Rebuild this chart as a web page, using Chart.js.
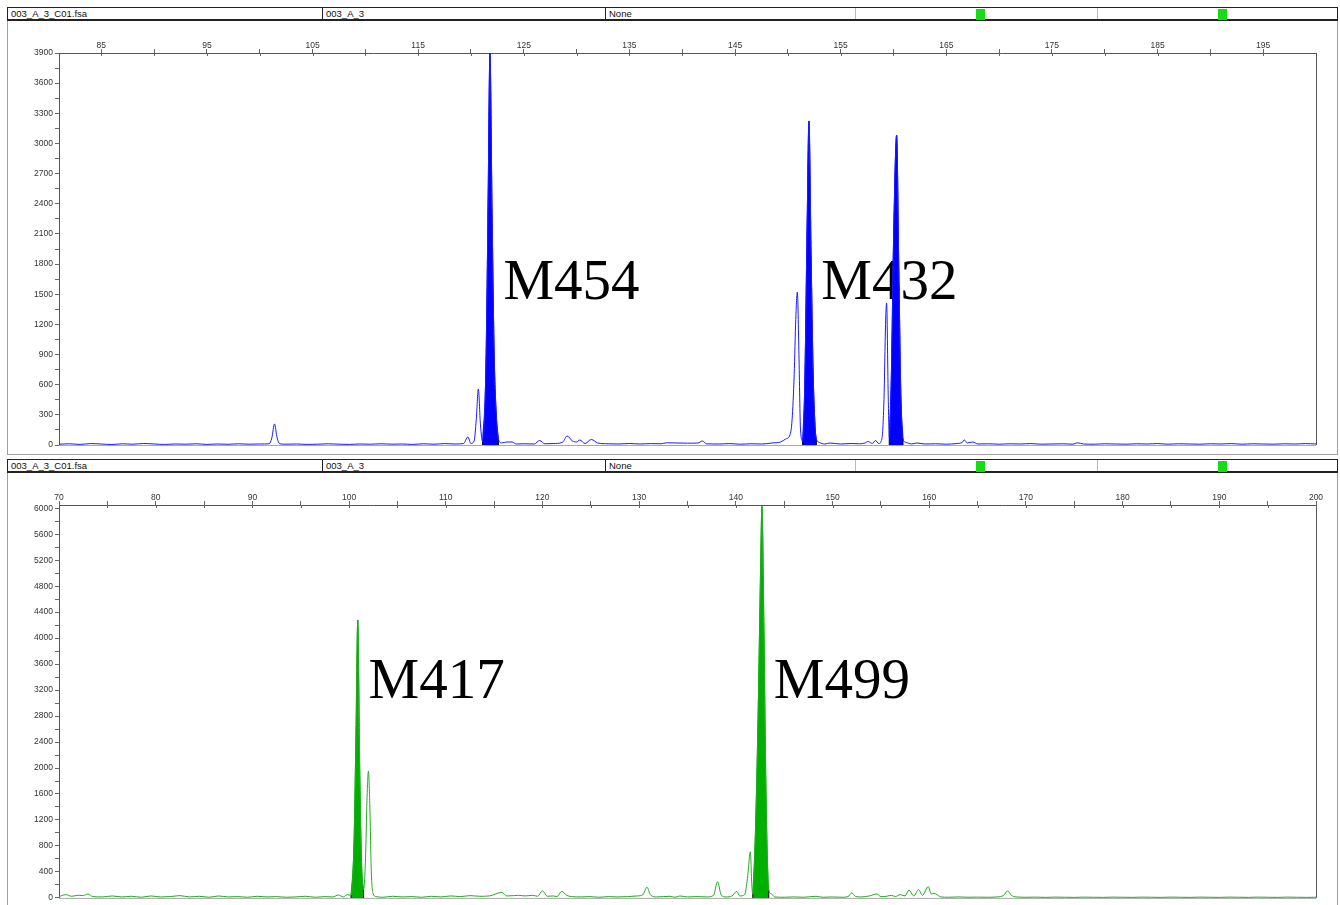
<!DOCTYPE html>
<html>
<head>
<meta charset="utf-8">
<script src="https://cdn.jsdelivr.net/npm/chart.js@4.4.1/dist/chart.umd.min.js"></script>
<style>
html, body { margin: 0; padding: 0; background: #fff; }
#page { position: relative; width: 1340px; height: 905px; overflow: hidden; font-family: "Liberation Sans", Arial, sans-serif; }
.panel { position: absolute; left: 7px; width: 1329px; border: 1px solid #a0a0a0; border-top: none; }
.head { position: absolute; left: 7px; width: 1329px; height: 11px; border: 1px solid #222; border-bottom: 2px solid #222; display: flex; font-size: 9.5px; line-height: 12px; color: #111; }
.head div { position: relative; height: 100%; box-sizing: border-box; padding-left: 3px; white-space: nowrap; }
.sq { position: absolute; top: 1px; left: 117px; width: 9px; height: 9px; background: #16dc16; padding: 0 !important; }
canvas { position: absolute; left: 0; }
</style>
</head>
<body>
<div id="page">
  <div class="panel" style="top:20px;height:434px"></div>
  <div class="head" style="top:7px">
    <div style="width:315px;border-right:1px solid #222">003_A_3_C01.fsa</div>
    <div style="width:283px;border-right:1px solid #222">003_A_3</div>
    <div style="width:250px;border-right:1px solid #bbb">None</div>
    <div style="width:242px;border-right:1px solid #bbb"><div class="sq"></div></div>
    <div style="width:239px"><div class="sq"></div></div>
  </div>
  <canvas id="blue" width="1340" height="433" style="top:20px"></canvas>

  <div class="panel" style="top:472px;height:440px"></div>
  <div class="head" style="top:459px">
    <div style="width:315px;border-right:1px solid #222">003_A_3_C01.fsa</div>
    <div style="width:283px;border-right:1px solid #222">003_A_3</div>
    <div style="width:250px;border-right:1px solid #bbb">None</div>
    <div style="width:242px;border-right:1px solid #bbb"><div class="sq"></div></div>
    <div style="width:239px"><div class="sq"></div></div>
  </div>
  <canvas id="green" width="1340" height="433" style="top:472px"></canvas>
</div>

<script>
// --- blue dye (top panel) ---
const topSize = [
  81, 82, 83, 84, 85, 86, 87, 88, 89, 90,
  91, 92, 93, 94, 95, 96, 97, 98, 99, 100,
  100.9, 101.15, 101.4, 101.65, 101.9, 102.5, 103.5, 104.5, 105.5, 106.5,
  107.5, 108.5, 109.5, 110.5, 111.5, 112.5, 113.5, 114.5, 115.5, 116.5,
  117.5, 118.5, 119.3, 119.7, 120.0, 120.3, 120.5, 120.7, 120.9, 121.1,
  121.4, 121.6, 121.8, 122.0, 122.2, 122.4, 122.6, 122.9, 123.4, 123.9,
  124.3, 125, 126, 126.5, 127, 128, 128.7, 129.1, 129.6, 130.0,
  130.3, 130.8, 131.4, 132, 133, 134, 135, 136, 137, 138,
  138.5, 139.5, 140.5, 141.5, 141.9, 142.3, 143.5, 144.5, 145.5, 146.5,
  147.5, 148.5, 149.3, 149.8, 150.2, 150.4, 150.6, 150.75, 150.9, 151.05,
  151.2, 151.4, 151.6, 151.8, 152.0, 152.2, 152.4, 152.6, 152.7, 153.0,
  153.5, 154, 155, 156, 156.8, 157.3, 157.6, 158.0, 158.3, 158.6,
  158.9, 159.1, 159.25, 159.35, 159.5, 159.6, 159.8, 160.0, 160.3, 160.5,
  160.7, 160.9, 161.2, 161.7, 162.2, 163, 164, 165, 166, 166.5,
  166.7, 167.0, 167.5, 168, 169, 170, 171, 172, 173, 174,
  175, 176, 177, 177.4, 178, 179, 180, 181, 182, 183,
  184, 185, 186, 187, 188, 189, 190, 191, 192, 193,
  194, 195, 196, 197, 198, 199, 200
];
const topRfu = [
  8, 12, 6, 14, 10, 5, 12, 8, 15, 10,
  6, 10, 8, 12, 6, 10, 7, 12, 8, 10,
  12, 70, 210, 70, 12, 8, 10, 6, 8, 12,
  8, 6, 10, 8, 12, 8, 10, 6, 12, 8,
  14, 10, 15, 80, 15, 40, 250, 557, 200, 35,
  700, 2200, 3900, 2300, 900, 300, 60, 20, 30, 30,
  10, 12, 10, 45, 12, 15, 30, 90, 40, 30,
  50, 15, 55, 20, 12, 10, 15, 10, 14, 12,
  22, 20, 18, 20, 40, 12, 10, 14, 8, 12,
  10, 20, 30, 60, 100, 250, 700, 1250, 1522, 900,
  150, 40, 600, 2000, 3224, 1900, 700, 150, 60, 25,
  10, 20, 10, 15, 12, 20, 35, 15, 45, 15,
  60, 450, 1200, 1413, 500, 80, 700, 2000, 3084, 1800,
  500, 60, 25, 10, 20, 10, 12, 8, 15, 25,
  50, 20, 30, 10, 12, 8, 12, 10, 14, 8,
  10, 12, 8, 22, 10, 8, 12, 10, 8, 12,
  10, 14, 8, 12, 10, 8, 12, 10, 14, 8,
  12, 10, 8, 12, 10, 14, 10
];
const topCalled = [[121.1, 122.6], [151.4, 152.7], [159.6, 160.9]];
const topMarkers = ['M454', 'M432'];
const topMarkerAt = [122.6, 152.7];
const topXLabels = [85, 95, 105, 115, 125, 135, 145, 155, 165, 175, 185, 195];
const topXMinor = [90, 100, 110, 120, 130, 140, 150, 160, 170, 180, 190];
const topYLabels = [0, 300, 600, 900, 1200, 1500, 1800, 2100, 2400, 2700, 3000, 3300, 3600, 3900];

// --- green dye (bottom panel) ---
const botSize = [
  70, 70.7, 71.3, 72, 72.5, 73, 73.5, 74.5, 75.5, 76.5,
  77.5, 78.5, 79.5, 80.5, 81.5, 82.5, 83.5, 84.5, 85.5, 86.5,
  87.5, 88.5, 89.5, 90.5, 91.5, 92.5, 93.5, 94.5, 95.5, 96.5,
  97.5, 98.3, 98.9, 99.4, 99.8, 100.2, 100.5, 100.7, 100.9, 101.1,
  101.3, 101.5, 101.7, 101.85, 102.0, 102.15, 102.3, 102.5, 102.8, 103.5,
  104.5, 105.5, 106.5, 107.5, 108.5, 109.5, 110.5, 111.5, 112.5, 113.5,
  114.5, 115.8, 116.3, 117, 117.5, 118.2, 119, 119.5, 120, 120.5,
  121.1, 121.5, 122, 122.5, 123, 124, 124.9, 125.8, 126.8, 127.8,
  128.8, 129.8, 130.4, 130.8, 131.2, 131.8, 132.5, 133.2, 133.7, 134.2,
  135, 136, 137, 137.7, 138.1, 138.5, 139, 139.6, 140.1, 140.4,
  140.9, 141.2, 141.5, 141.65, 141.75, 142.0, 142.3, 142.55, 142.7, 142.9,
  143.1, 143.3, 143.4, 143.7, 144, 145, 146, 147, 148.3, 149,
  150, 151, 151.6, 152, 152.4, 153, 153.8, 154.6, 155, 155.6,
  156.1, 156.5, 157, 157.5, 157.9, 158.4, 158.9, 159.3, 159.9, 160.2,
  160.5, 160.8, 161.2, 162, 163, 164, 165, 166, 167, 167.7,
  168.1, 168.5, 169, 170, 171, 172, 173, 174, 175, 176,
  177, 178, 179, 180, 181, 182, 183, 184, 185, 186,
  187, 188, 189, 190, 191, 192, 193, 194, 195, 196,
  197, 198, 199, 200
];
const botRfu = [
  20, 50, 25, 40, 35, 60, 20, 15, 30, 15,
  25, 10, 30, 15, 20, 35, 15, 25, 10, 30,
  15, 20, 10, 25, 15, 20, 10, 15, 25, 10,
  20, 15, 45, 15, 50, 40, 800, 2400, 4280, 2000,
  500, 130, 600, 1500, 1950, 1400, 400, 60, 20, 10,
  25, 15, 20, 10, 25, 15, 30, 20, 35, 25,
  30, 85, 30, 35, 40, 30, 40, 25, 110, 25,
  30, 20, 100, 40, 20, 15, 20, 10, 20, 15,
  20, 30, 50, 165, 40, 15, 20, 25, 10, 30,
  15, 20, 15, 40, 250, 40, 15, 30, 100, 30,
  50, 300, 711, 200, 60, 900, 2800, 5000, 6030, 4200,
  1800, 400, 120, 60, 15, 10, 15, 10, 25, 10,
  15, 10, 20, 77, 20, 15, 30, 60, 20, 25,
  40, 20, 50, 30, 120, 30, 128, 40, 174, 60,
  70, 50, 15, 10, 15, 10, 12, 10, 15, 40,
  107, 40, 15, 10, 12, 8, 12, 10, 8, 12,
  10, 8, 12, 10, 8, 12, 10, 8, 12, 10,
  8, 12, 10, 8, 12, 10, 8, 12, 10, 8,
  12, 10, 8, 10
];
const botCalled = [[100.2, 101.5], [141.75, 143.4]];
const botMarkers = ['M417', 'M499'];
const botMarkerAt = [101.5, 143.4];
const botXLabels = [70, 80, 90, 100, 110, 120, 130, 140, 150, 160, 170, 180, 190, 200];
const botXMinor = [75, 85, 95, 105, 115, 125, 135, 145, 155, 165, 175, 185, 195];
const botYLabels = [0, 400, 800, 1200, 1600, 2000, 2400, 2800, 3200, 3600, 4000, 4400, 4800, 5200, 5600, 6000];

const tickFont = { family: '"Liberation Sans", Arial, sans-serif', size: 8.5 };

// frame of the plot + big marker names (drawn under the traces)
const framePlugin = {
    id: 'frame',
    beforeDatasetsDraw(chart, args, opts) {
        const { ctx, chartArea: a } = chart;
        const x = chart.scales.x, y = chart.scales.y;
        ctx.save();
        ctx.lineWidth = 1;
        ctx.strokeStyle = '#a8a8a8';
        ctx.beginPath(); ctx.moveTo(a.left, a.bottom + 0.5); ctx.lineTo(a.right, a.bottom + 0.5); ctx.stroke();
        ctx.strokeStyle = '#555';
        ctx.beginPath(); ctx.moveTo(a.right + 0.5, a.top); ctx.lineTo(a.right + 0.5, a.bottom); ctx.stroke();
        // x ticks also poke a little below the top axis
        ctx.strokeStyle = '#666';
        x.ticks.forEach(t => {
            const px = Math.round(x.getPixelForValue(t.value)) + 0.5;
            ctx.beginPath(); ctx.moveTo(px, a.top); ctx.lineTo(px, a.top + 3); ctx.stroke();
        });
        ctx.font = '57px "Liberation Serif", "Times New Roman", serif';
        ctx.fillStyle = '#000';
        ctx.textBaseline = 'alphabetic';
        opts.names.forEach((n, i) => {
            ctx.fillText(n, x.getPixelForValue(opts.at[i]) + 5, y.getPixelForValue(opts.rfu));
        });
        ctx.restore();
    }
};

function makeChart(id, o) {
    const pts = o.size.map((s, i) => ({ x: s, y: o.rfu[i] }));
    const datasets = [{
        data: pts, borderColor: o.line, borderWidth: 1, pointRadius: 0,
        cubicInterpolationMode: 'monotone', fill: false, order: 0
    }];
    o.called.forEach(([a, b]) => {
        const seg = pts.filter(p => p.x >= a && p.x <= b);
        datasets.push({
            data: seg, borderColor: o.fill, backgroundColor: o.fill, borderWidth: 1, pointRadius: 0,
            cubicInterpolationMode: 'monotone', fill: 'origin', order: 2
        });
        // bin edges
        [seg[0], seg[seg.length - 1]].forEach(p => {
            datasets.push({
                data: [{ x: p.x, y: 0 }, p], borderColor: '#000', borderWidth: 1,
                pointRadius: 0, fill: false, order: 1
            });
        });
    });

    const yMinor = o.yLabels.slice(1).map((v, i) => (v + o.yLabels[i]) / 2);

    return new Chart(document.getElementById(id), {
        type: 'line',
        data: { datasets },
        plugins: [framePlugin],
        options: {
            responsive: false,
            animation: false,
            devicePixelRatio: 1,
            layout: { padding: { left: 0, right: 24, top: 0, bottom: o.padBottom } },
            plugins: {
                legend: { display: false },
                tooltip: { enabled: false },
                frame: { names: o.markers, at: o.markerAt, rfu: o.labelRfu }
            },
            scales: {
                x: {
                    type: 'linear', position: 'top', min: o.xMin, max: o.xMax,
                    afterFit: s => { s.height = 33; },
                    afterBuildTicks: s => {
                        s.ticks = [...o.xLabels, ...o.xMinor].sort((p, q) => p - q).map(v => ({ value: v }));
                    },
                    ticks: {
                        autoSkip: false, maxRotation: 0, padding: -2, color: '#333', font: tickFont,
                        callback: v => o.xLabels.includes(v) ? String(v) : ''
                    },
                    grid: { drawOnChartArea: false, tickLength: 4, color: '#666' },
                    border: { color: '#555', width: 1 }
                },
                y: {
                    type: 'linear', min: 0, max: o.yMax,
                    afterFit: s => { s.width = 59; },
                    afterBuildTicks: s => {
                        s.ticks = [...o.yLabels, ...yMinor].sort((p, q) => p - q).map(v => ({ value: v }));
                    },
                    ticks: {
                        autoSkip: false, padding: 2, color: '#333', font: tickFont,
                        callback: v => o.yLabels.includes(v) ? String(v) : ''
                    },
                    grid: { drawOnChartArea: false, tickLength: 4, color: '#666' },
                    border: { color: '#555', width: 1 }
                }
            }
        }
    });
}

makeChart('blue', {
    size: topSize, rfu: topRfu, called: topCalled,
    markers: topMarkers, markerAt: topMarkerAt, labelRfu: 1450,
    xMin: 81, xMax: 200, yMax: 3900, padBottom: 8,
    xLabels: topXLabels, xMinor: topXMinor, yLabels: topYLabels,
    line: '#1a1aff', fill: '#0000ff'
});

makeChart('green', {
    size: botSize, rfu: botRfu, called: botCalled,
    markers: botMarkers, markerAt: botMarkerAt, labelRfu: 3080,
    xMin: 70, xMax: 200, yMax: 6050, padBottom: 7,
    xLabels: botXLabels, xMinor: botXMinor, yLabels: botYLabels,
    line: '#22aa22', fill: '#00b000'
});
</script>
</body>
</html>
